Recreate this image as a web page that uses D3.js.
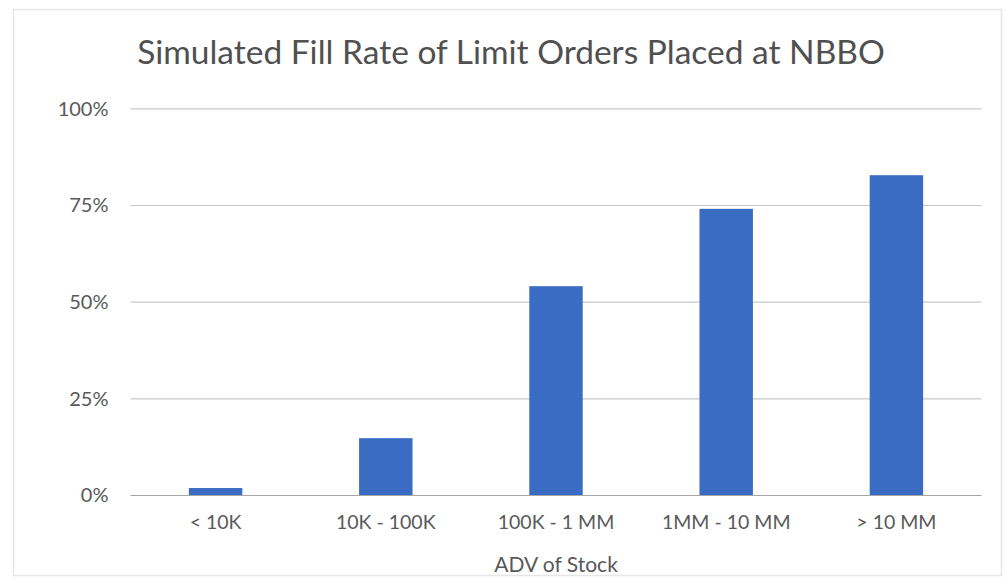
<!DOCTYPE html>
<html>
<head>
<meta charset="utf-8">
<script src="https://cdn.jsdelivr.net/npm/d3@7"></script>
<style>
  html, body { margin: 0; padding: 0; background: #fff; }
  svg { display: block; }
  text { font-family: Lato, "Open Sans", sans-serif; fill: #595959; }
</style>
</head>
<body>
<svg id="chart" width="1006" height="583"></svg>
<script>
const title = "Simulated Fill Rate of Limit Orders Placed at NBBO";
const xAxisTitle = "ADV of Stock";
const categories = ["< 10K", "10K - 100K", "100K - 1 MM", "1MM - 10 MM", "> 10 MM"];
const fillRate = [0.018, 0.147, 0.54, 0.74, 0.827];
const yTicks = [0, 0.25, 0.5, 0.75, 1.0];

const svg = d3.select("#chart");
const plot = { left: 130.5, right: 981.5, top: 108.3, bottom: 495 };

// chart frame
svg.append("rect")
  .attr("x", 13.5).attr("y", 9.5)
  .attr("width", 988).attr("height", 566)
  .attr("fill", "none").attr("stroke", "#e6e6e6").attr("stroke-width", 1.5);

const x = d3.scaleBand()
  .domain(categories)
  .range([plot.left, plot.right])
  .paddingInner(0.686)
  .paddingOuter(0.343);

const y = d3.scaleLinear()
  .domain([0, 1])
  .range([plot.bottom, plot.top]);

// gridlines + y labels
const yAxis = d3.axisLeft(y)
  .tickValues(yTicks)
  .tickFormat(d3.format(".0%"))
  .tickSize(-(plot.right - plot.left))
  .tickPadding(22);

const gy = svg.append("g")
  .attr("transform", `translate(${plot.left},0)`)
  .call(yAxis);
gy.select(".domain").remove();
gy.selectAll(".tick line")
  .attr("stroke", d => d === 0 ? "#a6a6a6" : "#c8c8c8")
  .attr("stroke-width", 1.2);
gy.selectAll(".tick text")
  .style("font-size", "20px")
  .style("fill", "#595959")
  .attr("dy", "0.34em");

// bars
svg.append("g")
  .selectAll("rect")
  .data(categories.map((c, i) => ({ c, v: fillRate[i] })))
  .join("rect")
  .attr("x", d => x(d.c))
  .attr("y", d => y(d.v))
  .attr("width", x.bandwidth())
  .attr("height", d => y(0) - y(d.v))
  .attr("fill", "#3a6cc4");

// x axis labels
const xAxis = d3.axisBottom(x).tickSize(0).tickPadding(20);
const gx = svg.append("g")
  .attr("transform", `translate(0,${plot.bottom})`)
  .call(xAxis);
gx.select(".domain").remove();
gx.selectAll(".tick text")
  .style("font-size", "19.5px")
  .style("fill", "#595959");

// titles
svg.append("text")
  .attr("x", 511).attr("y", 64)
  .attr("text-anchor", "middle")
  .style("font-size", "33.5px")
  .style("fill", "#505050")
  .text(title);

svg.append("text")
  .attr("x", 556).attr("y", 572)
  .attr("text-anchor", "middle")
  .style("font-size", "21px")
  .style("fill", "#595959")
  .text(xAxisTitle);
</script>
</body>
</html>
